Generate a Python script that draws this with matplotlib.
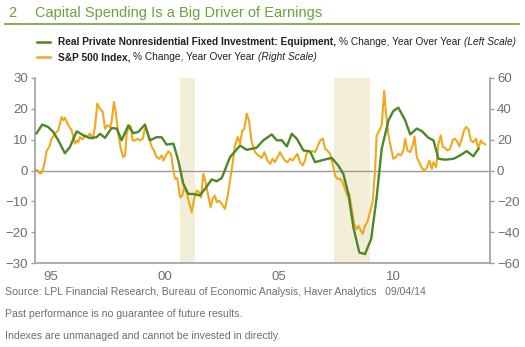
import matplotlib
matplotlib.use("Agg")
import matplotlib.pyplot as plt
from matplotlib import font_manager

# fonts: narrow face if available
names = {f.name for f in font_manager.fontManager.ttflist}
NARROW = "Liberation Sans Narrow" if "Liberation Sans Narrow" in names else "Liberation Sans"
plt.rcParams["font.family"] = [NARROW, "DejaVu Sans"]

GREEN = "#4f8726"
TITLE_GREEN = "#6ca238"
ORANGE = "#f0a81c"
GREY = "#6d6e71"
SHADE = "#f3eed8"

# Real private nonresidential fixed investment: equipment, % y/y (left scale)
equip_year = [1994.87, 1995.12, 1995.38, 1995.60, 1995.82, 1996.11, 1996.33, 1996.63,
              1996.92, 1997.21, 1997.50, 1997.65, 1997.87, 1998.16, 1998.38, 1998.60,
              1998.89, 1999.11, 1999.33, 1999.62, 1999.84, 2000.13, 2000.35, 2000.57,
              2000.87, 2001.08, 2001.30, 2001.52, 2001.74, 2002.03, 2002.25, 2002.55,
              2002.77, 2002.99, 2003.35, 2003.79, 2004.08, 2004.52, 2004.81, 2005.18,
              2005.40, 2005.62, 2005.84, 2006.06, 2006.28, 2006.57, 2006.86, 2007.08,
              2007.37, 2007.81, 2008.10, 2008.32, 2008.54, 2008.76, 2009.02, 2009.27,
              2009.54, 2009.78, 2010.00, 2010.30, 2010.51, 2010.73, 2011.03, 2011.25,
              2011.54, 2011.76, 2012.05, 2012.27, 2012.49, 2012.78, 2013.15, 2013.44,
              2013.73, 2014.02, 2014.24]
equip_pct = [12.1, 14.9, 14.1, 12.5, 9.8, 5.6, 7.6, 12.7,
             11.4, 10.5, 10.8, 11.9, 10.6, 13.8, 13.6, 9.8,
             14.6, 12.1, 12.5, 14.9, 9.8, 10.8, 10.8, 8.4,
             8.7, 3.3, -4.3, -7.6, -7.6, -8.1, -6.0, -2.9,
             -3.5, -2.4, 4.3, 8.1, 6.7, 7.4, 9.8, 11.7,
             9.8, 9.8, 7.8, 11.9, 10.3, 6.5, 6.2, 2.7,
             3.3, 4.1, 1.6, -1.1, -7.6, -18.4, -26.6, -27.1,
             -22.2, -8.7, 7.0, 16.3, 19.3, 20.4, 16.3, 11.7,
             13.6, 12.8, 10.6, 9.8, 3.8, 3.5, 3.8, 4.9,
             6.3, 4.6, 7.0]

# S&P 500 index, % y/y (right scale)
spx_year = [1994.80, 1994.90, 1994.99, 1995.09, 1995.16, 1995.24, 1995.31, 1995.43,
            1995.53, 1995.68, 1995.82, 1995.89, 1995.97, 1996.04, 1996.11, 1996.26,
            1996.41, 1996.55, 1996.63, 1996.70, 1996.77, 1996.89, 1996.99, 1997.09,
            1997.21, 1997.33, 1997.43, 1997.53, 1997.65, 1997.77, 1997.87, 1997.97,
            1998.09, 1998.16, 1998.26, 1998.35, 1998.45, 1998.56, 1998.67, 1998.75,
            1998.82, 1998.94, 1999.01, 1999.08, 1999.18, 1999.29, 1999.40, 1999.52,
            1999.62, 1999.70, 1999.81, 1999.92, 2000.02, 2000.13, 2000.25, 2000.35,
            2000.43, 2000.54, 2000.65, 2000.76, 2000.87, 2000.94, 2001.04, 2001.16,
            2001.26, 2001.35, 2001.45, 2001.55, 2001.67, 2001.79, 2001.89, 2001.99,
            2002.08, 2002.18, 2002.28, 2002.40, 2002.50, 2002.59, 2002.69, 2002.77,
            2002.87, 2002.99, 2003.13, 2003.25, 2003.35, 2003.45, 2003.57, 2003.69,
            2003.79, 2003.89, 2003.98, 2004.08, 2004.18, 2004.30, 2004.45, 2004.59,
            2004.74, 2004.86, 2004.99, 2005.11, 2005.22, 2005.32, 2005.43, 2005.54,
            2005.66, 2005.76, 2005.87, 2005.98, 2006.10, 2006.20, 2006.30, 2006.42,
            2006.54, 2006.64, 2006.74, 2006.86, 2006.98, 2007.08, 2007.18, 2007.30,
            2007.42, 2007.52, 2007.62, 2007.74, 2007.85, 2007.96, 2008.06, 2008.18,
            2008.29, 2008.39, 2008.50, 2008.58, 2008.69, 2008.79, 2008.91, 2008.98,
            2009.08, 2009.17, 2009.27, 2009.37, 2009.49, 2009.61, 2009.71, 2009.78,
            2009.90, 2010.00, 2010.11, 2010.19, 2010.30, 2010.40, 2010.51, 2010.63,
            2010.73, 2010.84, 2010.95, 2011.03, 2011.13, 2011.25, 2011.36, 2011.44,
            2011.54, 2011.65, 2011.76, 2011.86, 2011.98, 2012.09, 2012.20, 2012.27,
            2012.39, 2012.49, 2012.59, 2012.68, 2012.78, 2012.88, 2013.00, 2013.12,
            2013.22, 2013.32, 2013.41, 2013.51, 2013.61, 2013.70, 2013.80, 2013.91,
            2014.02, 2014.14, 2014.24, 2014.35, 2014.43, 2014.54]
spx_pct = [0, 0.4, -1.7, -1.7, 1.1, 6.5, 12.6, 15.6,
           20.6, 23.9, 26, 30.4, 34.7, 32.5, 34.3, 29.3,
           26, 17.4, 19.5, 18.4, 21.7, 20.2, 22.8, 21.7,
           23.9, 20.6, 28.2, 43.4, 40.1, 38, 27.1, 29.3,
           28.2, 31.5, 44.5, 36.9, 23.9, 14.1, 8.7, 9.8,
           23.9, 29.3, 28.2, 19.5, 19.5, 20.6, 19.5, 20.6,
           27.1, 26, 20.6, 15.2, 13, 8.7, 7.6, 9.8,
           6.5, 9.8, 12.4, 10.8, 0, -5.4, -5, -17.4,
           -16.3, -10.8, -14.1, -20.6, -27.1, -17.4, -13, -14.1,
           -17.4, -2.2, -7.6, -16.3, -23.9, -18.4, -16.3, -20.6,
           -19.5, -21.7, -24.9, -16.3, -6.5, 3.3, 16.3, 21.7,
           17.4, 26, 27.1, 36.9, 32.5, 18.4, 11.9, 9.8,
           8.2, 11.9, 6.5, 4.3, 7.6, 5.4, 8.7, 11.9,
           8.7, 6.5, 5.4, 7.6, 6.5, 8.7, 10.8, 5.4,
           3.3, 6.5, 13, 11.9, 12.6, 11.9, 15.2, 19.5,
           20.6, 14.1, 13, 10.8, 4.3, -3.3, -5.4, -5.4,
           -7.6, -11.9, -16.3, -15.2, -24.9, -34.7, -38, -35.8,
           -39, -41.2, -35.8, -33.6, -27.1, -19.5, 0, 22.8,
           26, 29.3, 51.6, 36.9, 22.8, 15.2, 7.6, 8.7,
           10.8, 9.8, 13, 20.6, 13, 11.9, 16.3, 22.1,
           8.7, 5.4, 1.7, 0, 1.7, 6.5, 1.1, 5.4,
           2.2, 17.4, 22.8, 15.2, 14.8, 13, 14.1, 20,
           20.6, 18.4, 15.6, 20.6, 26, 28.2, 27.1, 19.5,
           18.4, 20.6, 14.1, 19.5, 17.8, 16.9]

recessions = [(2001.17, 2001.83), (2007.92, 2009.50)]
year_ticks = [1995, 2000, 2005, 2010]
year_labels = ["95", "00", "05", "10"]
left_ticks = [-30, -20, -10, 0, 10, 20, 30]
right_ticks = [-60, -40, -20, 0, 20, 40, 60]

W, H = 525, 347
fig = plt.figure(figsize=(W / 100, H / 100), dpi=100)
ax = fig.add_axes([35 / W, 1 - 263 / H, (490 - 35) / W, (263 - 78) / H])
ax2 = ax.twinx()

# shading, zero line and S&P on the lower (right-scale) axes
for a, b in recessions:
    ax2.axvspan(a, b, color=SHADE, lw=0, zorder=0)
ax2.axhline(0, color="#9a9a9a", lw=1.0, zorder=1)
ax2.plot(spx_year, spx_pct, color=ORANGE, lw=1.5, zorder=2)

ax.plot(equip_year, equip_pct, color=GREEN, lw=1.7, zorder=3)
ax.set_zorder(ax2.get_zorder() + 1)
ax.patch.set_visible(False)

ax.set_xlim(1994.8, 2014.75)
ax.set_ylim(-30, 30)
ax2.set_ylim(-60, 60)
ax.set_xticks([y + 0.5 for y in year_ticks])
ax.set_xticklabels(year_labels)
ax.set_yticks(left_ticks)
ax2.set_yticks(right_ticks)

for a in (ax, ax2):
    for s in a.spines.values():
        s.set_visible(False)
ax.spines["left"].set_visible(True)
ax.spines["bottom"].set_visible(True)
ax2.spines["right"].set_visible(True)
for s in (ax.spines["left"], ax.spines["bottom"], ax2.spines["right"]):
    s.set_color("#a0a0a0")
    s.set_linewidth(1.2)

ax.tick_params(axis="x", length=0, pad=6, labelsize=9.5, labelcolor=GREY)
ax.tick_params(axis="y", length=3, width=1, color="#a0a0a0", pad=2, labelsize=9.5, labelcolor=GREY)
ax2.tick_params(axis="y", length=3, width=1, color="#a0a0a0", pad=2, labelsize=9.5, labelcolor=GREY)

# title and rule
fig.text(8 / W, 1 - 13 / H, "2", color=TITLE_GREEN, fontsize=10.5, va="center")
fig.text(35 / W, 1 - 13 / H, "Capital Spending Is a Big Driver of Earnings",
         color=TITLE_GREEN, fontsize=10.5, va="center")
fig.add_artist(plt.Line2D([5 / W, 519 / W], [1 - 24 / H, 1 - 24 / H],
                          color=TITLE_GREEN, lw=1.2))

# legend built from styled pieces
renderer = fig.canvas.get_renderer()


def pieces(x_px, y_px, parts):
    x = x_px
    for txt, kw in parts:
        t = fig.text(x / W, 1 - y_px / H, txt, va="center", fontsize=7.3,
                     color="#231f20", **kw)
        x += t.get_window_extent(renderer).width


for y_px, col, parts in [
    (42, GREEN, [("Real Private Nonresidential Fixed Investment: Equipment, ", {"weight": "bold"}),
                 ("% Change, Year Over Year ", {}),
                 ("(Left Scale)", {"style": "italic"})]),
    (57, ORANGE, [("S&P 500 Index, ", {"weight": "bold"}),
                  ("% Change, Year Over Year ", {}),
                  ("(Right Scale)", {"style": "italic"})]),
]:
    fig.add_artist(plt.Line2D([37 / W, 50 / W], [1 - y_px / H, 1 - y_px / H], color=col, lw=1.8))
    pieces(58, y_px, parts)

# footnotes
for y_px, txt in [
    (292, "Source: LPL Financial Research, Bureau of Economic Analysis, Haver Analytics   09/04/14"),
    (314, "Past performance is no guarantee of future results."),
    (336, "Indexes are unmanaged and cannot be invested in directly."),
]:
    fig.text(5 / W, 1 - y_px / H, txt, color=GREY, fontsize=7.6, va="center")

fig.savefig("out.png", dpi=100)
